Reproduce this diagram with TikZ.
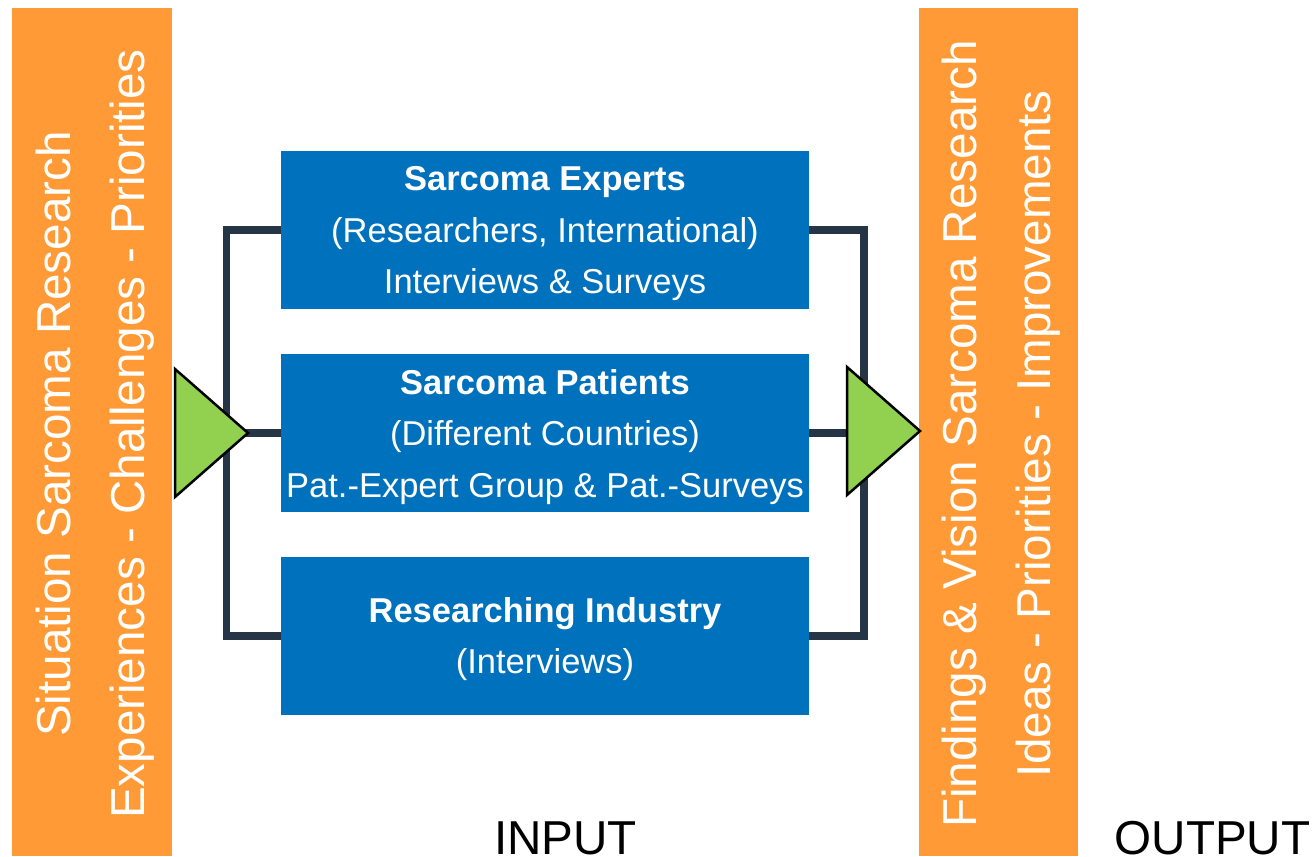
\documentclass[tikz,border=0pt]{standalone}
\usepackage{fontspec}
\setmainfont{Liberation Sans}
\definecolor{barorange}{HTML}{FF9A36}
\definecolor{boxblue}{HTML}{0071BC}
\definecolor{conndark}{HTML}{253545}
\definecolor{trigreen}{HTML}{92D050}
\tikzset{
  bar/.style={fill=barorange, draw=none, minimum width=160pt, minimum height=848pt, inner sep=0pt},
  bartext/.style={text=white, align=center, rotate=90, inner sep=0pt, font=\fontsize{47.6}{74}\selectfont},
  bluebox/.style={fill=boxblue, draw=none, minimum width=528pt, minimum height=158pt, inner sep=0pt},
  boxtext/.style={text=white, align=center, inner sep=0pt, font=\fontsize{34.5}{51.5}\selectfont},
  conn/.style={draw=conndark, line width=7.5pt, line join=miter},
  tri/.style={fill=trigreen, draw=black, line width=2.5pt, line join=miter},
  label/.style={text=black, anchor=base, inner sep=0pt, font=\fontsize{47.6}{57}\selectfont}
}
\begin{document}
\begin{tikzpicture}[x=1pt,y=-1pt]
\useasboundingbox (0,0) rectangle (1313,856);
% side bars
\node[bar] (lbar) at (92,432) {};
\node[bartext] (ltext) at ([xshift=3pt,yshift=-2pt]lbar.center) {Situation Sarcoma Research\\Experiences - Challenges - Priorities};
\node[bar, minimum width=159pt] (rbar) at (998.5,432) {};
\node[bartext] (rtext) at ([xshift=3pt,yshift=-2pt]rbar.center) {Findings \& Vision Sarcoma Research\\Ideas - Priorities - Improvements};
% blue boxes
\node[bluebox] (exp) at (545,230) {};
\node[bluebox] (pat) at (545,433) {};
\node[bluebox] (ind) at (545,636) {};
\node[boxtext] (expt) at ([yshift=-4pt]exp.center) {\textbf{Sarcoma Experts}\\(Researchers, International)\\Interviews \& Surveys};
\node[boxtext] (patt) at ([yshift=-4pt]pat.center) {\textbf{Sarcoma Patients}\\(Different Countries)\\Pat.-Expert Group \& Pat.-Surveys};
\node[boxtext] (indt) at ([yshift=-3pt]ind.center) {\textbf{Researching Industry}\\(Interviews)};
% connectors
\coordinate (lj) at (226.5,433);
\coordinate (rj) at (864,433);
\draw[conn] (exp.west) -| (lj) |- (ind.west);
\draw[conn] (lj) -- (pat.west);
\draw[conn] (exp.east) -| (rj) |- (ind.east);
\draw[conn] (pat.east) -- (rj);
% triangles
\coordinate (lt1) at (175,369);
\coordinate (lt2) at (248,433);
\coordinate (lt3) at (175,497);
\draw[tri] (lt1) -- (lt2) -- (lt3) -- cycle;
\coordinate (rt1) at (847,367);
\coordinate (rt2) at (920,431);
\coordinate (rt3) at (847,495);
\draw[tri] (rt1) -- (rt2) -- (rt3) -- cycle;
% labels
\node[label] (input) at (565.5,854) {INPUT};
\node[label] (output) at (1212.5,854) {OUTPUT};
\end{tikzpicture}
\end{document}
